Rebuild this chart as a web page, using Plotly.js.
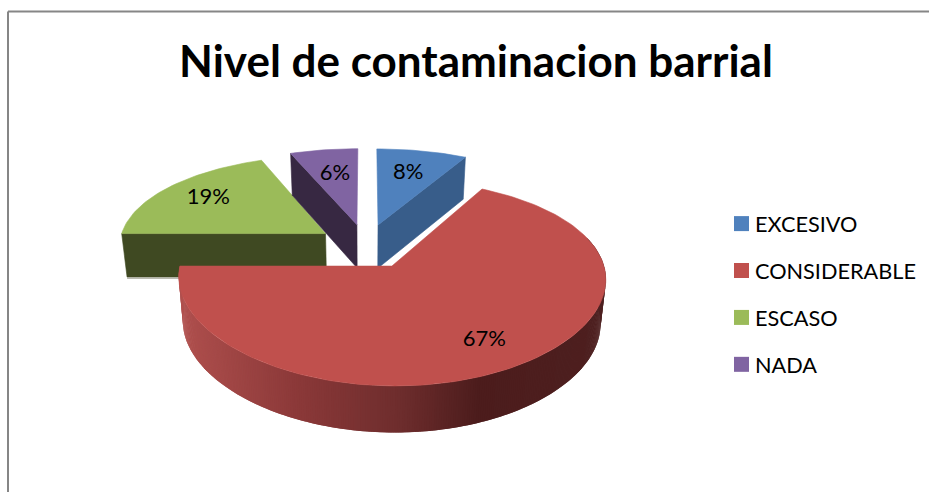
<!DOCTYPE html>
<html><head><meta charset="utf-8">
<script src="https://cdn.plot.ly/plotly-3.0.1.min.js"></script>
<style>html,body{margin:0;padding:0;background:#fff}#c{width:929px;height:492px}</style></head>
<body><div id="c"></div>
<script>
const chartTitle = "Nivel de contaminacion barrial";
const categories = ["EXCESIVO","CONSIDERABLE","ESCASO","NADA"];
const values = [8,67,19,6];
const topColors = ["#4f81bd","#c0504d","#9bbb59","#8064a2"];
const wallColors = ["#385d8a","#7a3432","#3f4922","#372842"];
const labelRadius = [0.66,0.77,0.74,0.64];
const rimStops = [[178,[176,80,78]],[300,[138,56,56]],[400,[110,45,45]],[480,[76,28,28]],[604,[78,32,32]]];

const view = {cx:366, cy:246, A:207, B:94, px:0.115, py:0.157, explode:0.24, depth:43.5, depthSlope:0.02, shrink:0.022};
const rad = d => d*Math.PI/180;
function project(u,v){return [view.cx+view.A*u/(1+view.px*v), view.cy-view.B*v/(1+view.py*v)];}
function drop(pt){const d=view.depth+(pt[1]-233)*view.depthSlope;return [view.cx+(pt[0]-view.cx)*(1-view.shrink), pt[1]+d];}
const total = values.reduce((a,b)=>a+b,0);
let acc = 0;
const slices = values.map((val,i)=>{
  const a0=acc/total*360; acc+=val; const a1=acc/total*360; const mid=(a0+a1)/2;
  const u0=view.explode*Math.sin(rad(mid)), v0=view.explode*Math.cos(rad(mid));
  const at=(a,r=1)=>project(u0+r*Math.sin(rad(a)),v0+r*Math.cos(rad(a)));
  return {i,val,a0,a1,mid,at};
});
const poly=(pts,color,lw)=>({type:"scatter",mode:"lines",x:pts.map(p=>p[0]),y:pts.map(p=>p[1]),fill:"toself",fillcolor:color,
  line:{color:color,width:lw===undefined?0.6:lw},hoverinfo:"skip",showlegend:false});
function rimColor(x){
  for(let k=0;k<rimStops.length-1;k++){const [x0,c0]=rimStops[k],[x1,c1]=rimStops[k+1];
    if(x<=x1){const t=Math.max(0,(x-x0)/(x1-x0));return "rgb("+c0.map((c,j)=>Math.round(c+(c1[j]-c)*t)).join(",")+")";}}
  const l=rimStops[rimStops.length-1][1];return "rgb("+l.join(",")+")";
}
const traces=[];
function arc(s,step){const pts=[];const n=Math.ceil((s.a1-s.a0)/(step||1.5));for(let k=0;k<=n;k++)pts.push(s.at(s.a0+(s.a1-s.a0)*k/n));return pts;}
function wall(s,a,color){
  const o=s.at(0,0),e=s.at(a);
  traces.push(poly([o,e,drop(e),drop(o),o],color));
  if(Math.abs(Math.sin(rad(a))+1)<1e-6){ // soft shadow below a wall that faces the viewer
    const p=drop(e),q=drop(o);
    traces.push({type:"scatter",mode:"lines",x:[p[0],q[0]],y:[p[1]+1,q[1]+1],line:{color:"#a3a398",width:1.2},hoverinfo:"skip",showlegend:false});
  }
}
function rim(s){
  const pts=arc(s,0.6);
  for(let k=0;k<pts.length-1;k++){
    const p=pts[k],q=pts[k+1];
    if(Math.cos(rad(s.a0+(s.a1-s.a0)*k/(pts.length-1)))>0.3) continue;
    const r=pts[Math.min(k+2,pts.length-1)];
    traces.push(poly([p,r,drop(r),drop(p),p],rimColor((p[0]+q[0])/2),0));
  }
}
// back-to-front painting: far slices first, the large near slice last
[2,3,0,1].forEach(i=>{
  const s=slices[i];
  if(Math.sin(rad(s.a0))<-1e-6) wall(s,s.a0,wallColors[i]);
  if(Math.sin(rad(s.a1))>1e-6) wall(s,s.a1,wallColors[i]);
  if(s.a1-s.a0>180) rim(s);
  const o=s.at(0,0);
  traces.push(poly([o,...arc(s),o],topColors[i]));
});
// value labels
const lp=slices.map(s=>{const p=s.at(s.mid,labelRadius[s.i]);return p;});
traces.push({type:"scatter",mode:"text",x:lp.map(p=>p[0]),y:lp.map(p=>p[1]),text:values.map(v=>v+"%"),
  textposition:"middle center",textfont:{family:"Lato, sans-serif",size:22,color:"#000"},hoverinfo:"skip",showlegend:false});
// legend entries
categories.forEach((c,i)=>traces.push({type:"scatter",mode:"markers",x:[null],y:[null],name:c,legendgroup:c,
  marker:{symbol:"square",size:15,color:topColors[i]},hoverinfo:"skip"}));

const layout={
  width:929,height:492,margin:{l:0,r:0,t:0,b:0},paper_bgcolor:"#fff",plot_bgcolor:"#fff",
  title:{text:"<b>"+chartTitle+"</b>",font:{family:"Lato, sans-serif",size:44,color:"#000"},x:476/929,xanchor:"center",y:1-62/492,yanchor:"middle"},
  xaxis:{range:[0,929],visible:false,fixedrange:true},
  yaxis:{range:[492,0],visible:false,fixedrange:true},
  legend:{x:715/929,y:1-203/492,xanchor:"left",yanchor:"top",traceorder:"grouped",tracegroupgap:15.7,itemwidth:30,
    font:{family:"Lato, sans-serif",size:21.7,color:"#000"},bgcolor:"rgba(0,0,0,0)"},
  shapes:[
    {type:"line",xref:"paper",yref:"paper",x0:8/929,x1:1,y0:1-11.5/492,y1:1-11.5/492,line:{color:"#868686",width:2}},
    {type:"line",xref:"paper",yref:"paper",x0:8/929,x1:8/929,y0:1-11.5/492,y1:0,line:{color:"#868686",width:2}}
  ]
};
Plotly.newPlot("c",traces,layout,{displayModeBar:false,staticPlot:true}).then(()=>{
  // the reference keeps its legend swatches closer to the text than Plotly's minimum item width
  document.querySelectorAll("#c .legend .legendsymbols").forEach(g=>g.setAttribute("transform","translate(6.5,0)"));
});
</script></body></html>
